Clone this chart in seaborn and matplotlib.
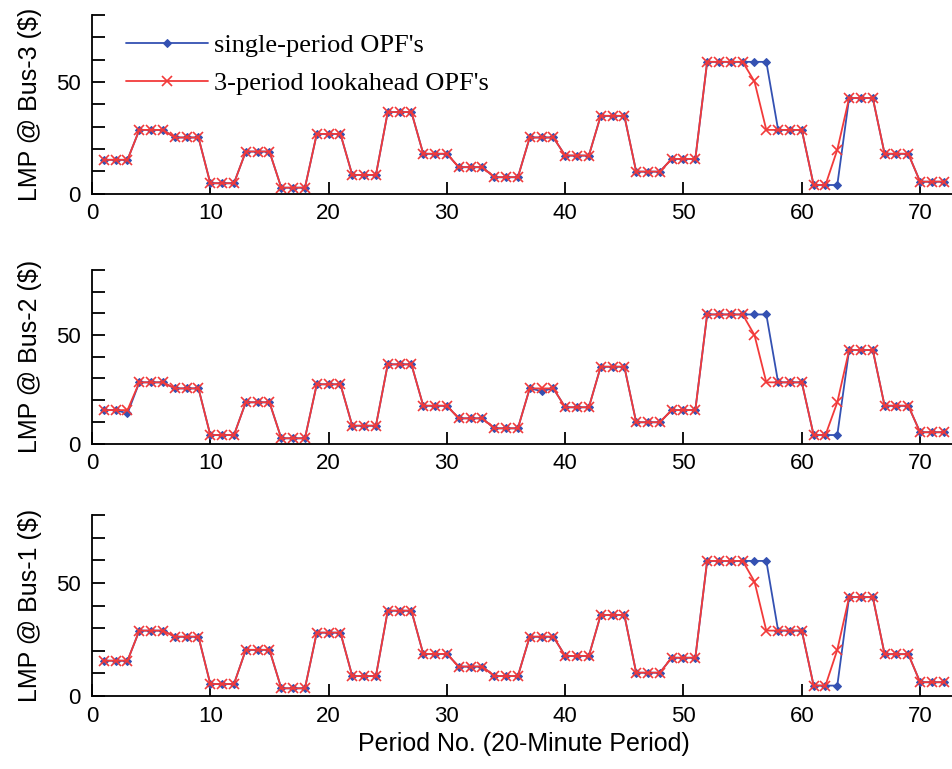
import numpy as np
import pandas as pd
import matplotlib
matplotlib.use("Agg")
import matplotlib.pyplot as plt
from matplotlib.ticker import MultipleLocator
import seaborn as sns

periods = list(range(1, 73))

# Bus-3 (top panel)
bus3_lookahead = [15.1, 15.1, 15.1, 28.5, 28.5, 28.5, 25.1, 25.1, 25.1, 4.6, 4.6, 4.6,
                  18.8, 18.8, 18.8, 2.6, 2.6, 2.6, 26.7, 26.7, 26.7, 8.3, 8.3, 8.3,
                  36.5, 36.5, 36.5, 17.8, 17.8, 17.8, 11.8, 11.8, 11.8, 7.3, 7.3, 7.3,
                  25.1, 25.1, 25.1, 17.0, 17.0, 17.0, 34.8, 34.8, 34.8, 9.8, 9.8, 9.8,
                  15.5, 15.5, 15.5, 59.0, 59.0, 59.0, 59.0, 50.2, 28.5, 28.5, 28.5, 28.5,
                  3.8, 3.8, 19.6, 42.8, 42.8, 42.8, 17.8, 17.8, 17.8, 5.3, 5.3, 5.3]
bus3_single = [15.1, 15.1, 15.1, 28.5, 28.5, 28.5, 25.1, 25.1, 25.1, 4.6, 4.6, 4.6,
               18.8, 18.8, 18.8, 2.6, 2.6, 2.6, 26.7, 26.7, 26.7, 8.3, 8.3, 8.3,
               36.5, 36.5, 36.5, 17.8, 17.8, 17.8, 11.8, 11.8, 11.8, 7.3, 7.3, 7.3,
               25.1, 25.1, 25.1, 17.0, 17.0, 17.0, 34.8, 34.8, 34.8, 9.8, 9.8, 9.8,
               15.5, 15.5, 15.5, 59.0, 59.0, 59.0, 59.0, 59.0, 59.0, 28.5, 28.5, 28.5,
               3.8, 3.8, 3.8, 42.8, 42.8, 42.8, 17.8, 17.8, 17.8, 5.3, 5.3, 5.3]

# Bus-2 (middle panel)
bus2_lookahead = [15.4, 15.4, 15.4, 28.2, 28.2, 28.2, 25.4, 25.4, 25.4, 3.9, 3.9, 3.9,
                  19.0, 19.0, 19.0, 2.4, 2.4, 2.4, 27.3, 27.3, 27.3, 8.2, 8.2, 8.2,
                  36.5, 36.5, 36.5, 17.4, 17.4, 17.4, 11.6, 11.6, 11.6, 7.0, 7.0, 7.0,
                  25.4, 25.4, 25.4, 16.7, 16.7, 16.7, 35.4, 35.4, 35.4, 9.8, 9.8, 9.8,
                  15.4, 15.4, 15.4, 59.5, 59.5, 59.5, 59.5, 50.0, 28.2, 28.2, 28.2, 28.2,
                  3.9, 3.9, 19.0, 43.1, 43.1, 43.1, 17.4, 17.4, 17.4, 5.2, 5.2, 5.2]
bus2_single = [15.4, 15.4, 13.9, 28.2, 28.2, 28.2, 25.4, 25.4, 25.4, 3.9, 3.9, 3.9,
               19.0, 19.0, 19.0, 2.4, 2.4, 2.4, 27.3, 27.3, 27.3, 8.2, 8.2, 8.2,
               36.5, 36.5, 36.5, 17.4, 17.4, 17.4, 11.6, 11.6, 11.6, 7.0, 7.0, 7.0,
               25.4, 24.2, 25.4, 16.7, 16.7, 16.7, 35.4, 35.4, 35.4, 9.8, 9.8, 9.8,
               15.4, 15.4, 15.4, 59.5, 59.5, 59.5, 59.5, 59.5, 59.5, 28.2, 28.2, 28.2,
               3.9, 3.9, 3.9, 43.1, 43.1, 43.1, 17.4, 17.4, 17.4, 5.2, 5.2, 5.2]

# Bus-1 (bottom panel)
bus1_lookahead = [15.6, 15.6, 15.6, 28.9, 28.9, 28.9, 26.2, 26.2, 26.2, 5.3, 5.3, 5.3,
                  20.4, 20.4, 20.4, 3.4, 3.4, 3.4, 28.0, 28.0, 28.0, 8.8, 8.8, 8.8,
                  37.7, 37.7, 37.7, 18.6, 18.6, 18.6, 13.0, 13.0, 13.0, 8.8, 8.8, 8.8,
                  26.2, 26.2, 26.2, 17.7, 17.7, 17.7, 35.8, 35.8, 35.8, 10.3, 10.3, 10.3,
                  16.9, 16.9, 16.9, 59.7, 59.7, 59.7, 59.7, 50.6, 28.9, 28.9, 28.9, 28.9,
                  4.6, 4.6, 20.4, 43.7, 43.7, 43.7, 18.5, 18.5, 18.5, 6.1, 6.1, 6.1]
bus1_single = [15.6, 15.6, 15.6, 28.9, 28.9, 28.9, 26.2, 26.2, 26.2, 5.3, 5.3, 5.3,
               20.4, 20.4, 20.4, 3.4, 3.4, 3.4, 28.0, 28.0, 28.0, 8.8, 8.8, 8.8,
               37.7, 37.7, 37.7, 18.6, 18.6, 18.6, 13.0, 13.0, 13.0, 8.8, 8.8, 8.8,
               26.2, 26.2, 26.2, 17.7, 17.7, 17.7, 35.8, 35.8, 35.8, 10.3, 10.3, 10.3,
               16.9, 16.9, 16.9, 59.7, 59.7, 59.7, 59.7, 59.7, 59.7, 28.9, 28.9, 28.9,
               4.6, 4.6, 4.6, 43.7, 43.7, 43.7, 18.5, 18.5, 18.5, 6.1, 6.1, 6.1]

panel_labels = ["LMP @ Bus-3 ($)", "LMP @ Bus-2 ($)", "LMP @ Bus-1 ($)"]
series_names = ["single-period OPF's", "3-period lookahead OPF's"]
x_label = "Period No. (20-Minute Period)"
x_ticks = [0, 10, 20, 30, 40, 50, 60, 70]
y_ticks = [0, 50]

sns.set_style("ticks")
plt.rcParams["font.family"] = ["Liberation Sans", "DejaVu Sans"]
plt.rcParams["text.color"] = "black"
plt.rcParams["axes.labelcolor"] = "black"
plt.rcParams["xtick.color"] = "black"
plt.rcParams["ytick.color"] = "black"

BLUE = "#3451b2"
RED = "#f23a3a"

fig = plt.figure(figsize=(9.53, 7.69), dpi=100)
H = 769.0
W = 953.0
left = 92 / W
width = (73 * 11.83) / W
panels = [(15, 193.5), (270, 443.5), (515, 696)]

data = [(bus3_single, bus3_lookahead), (bus2_single, bus2_lookahead), (bus1_single, bus1_lookahead)]

axes = []
for i, ((top, bot), (single, look)) in enumerate(zip(panels, data)):
    ax = fig.add_axes([left, 1 - bot / H, width, (bot - top) / H])
    axes.append(ax)
    df = pd.DataFrame({"period": periods, "single": single, "look": look})
    sns.lineplot(data=df, x="period", y="single", ax=ax, color=BLUE, lw=1.3,
                 marker="D", markersize=4.5, markeredgecolor=BLUE, markerfacecolor=BLUE,
                 label=series_names[0], legend=False)
    sns.lineplot(data=df, x="period", y="look", ax=ax, color=RED, lw=1.3,
                 marker="x", markersize=7, markeredgewidth=1.2, markeredgecolor=RED,
                 label=series_names[1], legend=False)
    ax.set_xlim(0, 73)
    ax.set_ylim(0, 80)
    ax.set_xticks(x_ticks)
    ax.set_yticks(y_ticks)
    ax.yaxis.set_minor_locator(MultipleLocator(10))
    ax.tick_params(axis="both", which="both", direction="in", length=9, width=1.3,
                   labelsize=16, color="black", labelcolor="black")
    ax.tick_params(axis="x", pad=7)
    ax.tick_params(axis="y", pad=8)
    for s in ["top", "right"]:
        ax.spines[s].set_visible(False)
    for s in ["left", "bottom"]:
        ax.spines[s].set_linewidth(1.3)
        ax.spines[s].set_color("black")
    ax.set_ylabel(panel_labels[i], fontsize=18, labelpad=10, color="black")
    ax.set_xlabel("")
    if i == 2:
        ax.set_xlabel(x_label, fontsize=18, labelpad=4, color="black")

handles, labels = axes[0].get_legend_handles_labels()
leg = axes[0].legend(handles, labels, loc="upper left", bbox_to_anchor=(0.027, 0.955),
                     frameon=False, prop={"family": "Liberation Serif", "size": 19},
                     handlelength=3.1, handletextpad=0.25, labelspacing=0.55,
                     borderaxespad=0.0)
for t in leg.get_texts():
    t.set_color("black")

fig.savefig("out.png", dpi=100)
